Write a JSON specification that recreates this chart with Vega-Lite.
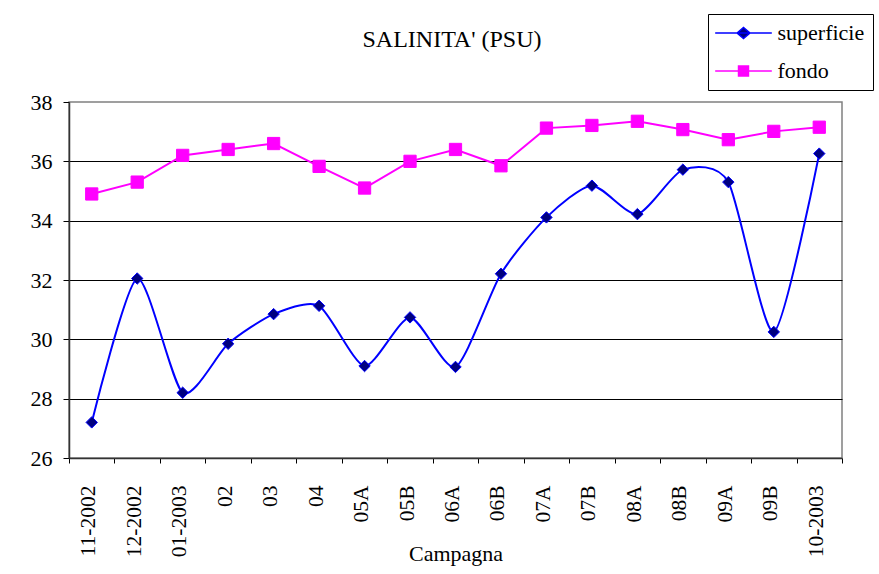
{
  "$schema": "https://vega.github.io/schema/vega-lite/v6.json",
  "width": 773,
  "height": 356,
  "autosize": {"type": "none"},
  "padding": {"left": 69, "top": 102, "right": 37, "bottom": 116},
  "background": "white",
  "title": {
    "text": "SALINITA' (PSU)",
    "font": "Liberation Serif",
    "fontSize": 24,
    "fontWeight": "normal",
    "color": "black",
    "anchor": "middle",
    "frame": "group",
    "baseline": "alphabetic",
    "dx": -3.5,
    "offset": -57
  },
  "config": {
    "view": {"stroke": "#808080", "strokeWidth": 1.5},
    "font": "Liberation Serif"
  },
  "data": {
    "values": [
      {"campagna": "11-2002", "series": "superficie", "salinita": 27.2},
      {"campagna": "12-2002", "series": "superficie", "salinita": 32.05},
      {"campagna": "01-2003", "series": "superficie", "salinita": 28.2},
      {"campagna": "02", "series": "superficie", "salinita": 29.85},
      {"campagna": "03", "series": "superficie", "salinita": 30.85},
      {"campagna": "04", "series": "superficie", "salinita": 31.13},
      {"campagna": "05A", "series": "superficie", "salinita": 29.1},
      {"campagna": "05B", "series": "superficie", "salinita": 30.74},
      {"campagna": "06A", "series": "superficie", "salinita": 29.07},
      {"campagna": "06B", "series": "superficie", "salinita": 32.21},
      {"campagna": "07A", "series": "superficie", "salinita": 34.11},
      {"campagna": "07B", "series": "superficie", "salinita": 35.18},
      {"campagna": "08A", "series": "superficie", "salinita": 34.22},
      {"campagna": "08B", "series": "superficie", "salinita": 35.72},
      {"campagna": "09A", "series": "superficie", "salinita": 35.3},
      {"campagna": "09B", "series": "superficie", "salinita": 30.25},
      {"campagna": "10-2003", "series": "superficie", "salinita": 36.26},
      {"campagna": "11-2002", "series": "fondo", "salinita": 34.9},
      {"campagna": "12-2002", "series": "fondo", "salinita": 35.3},
      {"campagna": "01-2003", "series": "fondo", "salinita": 36.2},
      {"campagna": "02", "series": "fondo", "salinita": 36.4},
      {"campagna": "03", "series": "fondo", "salinita": 36.6},
      {"campagna": "04", "series": "fondo", "salinita": 35.83},
      {"campagna": "05A", "series": "fondo", "salinita": 35.1},
      {"campagna": "05B", "series": "fondo", "salinita": 36.0},
      {"campagna": "06A", "series": "fondo", "salinita": 36.4},
      {"campagna": "06B", "series": "fondo", "salinita": 35.85},
      {"campagna": "07A", "series": "fondo", "salinita": 37.12},
      {"campagna": "07B", "series": "fondo", "salinita": 37.21},
      {"campagna": "08A", "series": "fondo", "salinita": 37.35},
      {"campagna": "08B", "series": "fondo", "salinita": 37.07},
      {"campagna": "09A", "series": "fondo", "salinita": 36.73},
      {"campagna": "09B", "series": "fondo", "salinita": 37.01},
      {"campagna": "10-2003", "series": "fondo", "salinita": 37.15}
    ]
  },
  "encoding": {
    "x": {
      "field": "campagna",
      "type": "nominal",
      "sort": null,
      "scale": {"type": "band", "paddingInner": 0, "paddingOuter": 0},
      "axis": {
        "title": "Campagna",
        "titleFont": "Liberation Serif",
        "titleFontSize": 22,
        "titleFontWeight": "normal",
        "titleColor": "black",
        "titleBaseline": "alphabetic",
        "titleY": 102,
        "labelFont": "Liberation Serif",
        "labelFontSize": 21.5,
        "labelColor": "black",
        "labelAngle": -90,
        "labelPadding": 22,
        "labelOffset": -3,
        "labelLimit": 200,
        "tickBand": "extent",
        "tickSize": 5,
        "tickColor": "black",
        "tickWidth": 1,
        "domainColor": "#333333",
        "domainWidth": 1.5,
        "grid": false
      }
    },
    "y": {
      "field": "salinita",
      "type": "quantitative",
      "scale": {"domain": [26, 38], "nice": false, "zero": false},
      "axis": {
        "title": null,
        "values": [26, 28, 30, 32, 34, 36, 38],
        "labelFont": "Liberation Serif",
        "labelFontSize": 22,
        "labelColor": "black",
        "labelPadding": 11,
        "tickSize": 6,
        "tickColor": "black",
        "tickWidth": 1,
        "domainColor": "#333333",
        "domainWidth": 1.5,
        "grid": true,
        "gridColor": {"condition": {"test": "datum.value <= 26 || datum.value >= 38", "value": "transparent"}, "value": "black"},
        "gridWidth": 1,
        "gridOpacity": 1
      }
    }
  },
  "layer": [
    {
      "transform": [{"filter": "datum.series === 'fondo'"}],
      "mark": {"type": "line", "strokeWidth": 2},
      "encoding": {
        "stroke": {
          "field": "series",
          "type": "nominal",
          "scale": {"domain": ["superficie", "fondo"], "range": ["#0000FF", "#FF00FF"]},
          "legend": {
            "title": null,
            "orient": "none",
            "legendX": 639,
            "legendY": -88,
            "direction": "vertical",
            "strokeColor": "black",
            "fillColor": "white",
            "padding": 8,
            "rowPadding": 16,
            "symbolSize": 144,
            "symbolStrokeWidth": 1.5,
            "symbolOffset": 16.5,
            "labelOffset": 23,
            "labelFont": "Liberation Serif",
            "labelFontSize": 22,
            "labelColor": "black",
            "labelLimit": 300,
            "encode": {
              "symbols": {
                "update": {
                  "shape": {"signal": "datum.value === 'superficie' ? 'M-4.72,0H4.72M-1.08,0L0,-0.92L1.08,0L0,0.92Z' : 'M-4.72,0H4.72M-0.83,-0.83H0.83V0.83H-0.83Z'"},
                  "fill": {"signal": "datum.value === 'superficie' ? '#000080' : '#FF00FF'"},
                  "opacity": {"value": 1},
                  "fillOpacity": {"value": 1},
                  "strokeOpacity": {"value": 1}
                }
              }
            }
          }
        }
      }
    },
    {
      "transform": [{"filter": "datum.series === 'fondo'"}],
      "mark": {"type": "point", "shape": "square", "filled": true, "fill": "#FF00FF", "stroke": "#FF00FF", "strokeWidth": 1, "size": 150, "opacity": 1}
    },
    {
      "transform": [{"filter": "datum.series === 'superficie'"}],
      "mark": {"type": "line", "strokeWidth": 2, "interpolate": "cardinal", "tension": 0.3},
      "encoding": {
        "stroke": {"field": "series", "type": "nominal"}
      }
    },
    {
      "transform": [{"filter": "datum.series === 'superficie'"}],
      "mark": {"type": "point", "shape": "diamond", "filled": true, "fill": "#000080", "stroke": "#0000FF", "strokeWidth": 1, "size": 130, "opacity": 1}
    }
  ]
}
